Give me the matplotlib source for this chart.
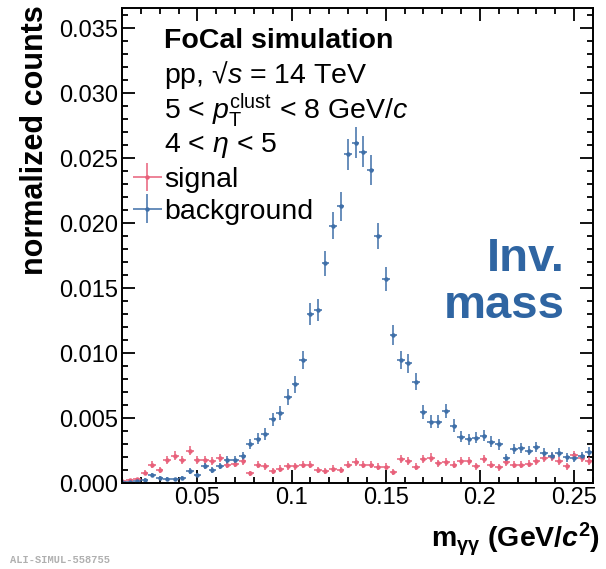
import numpy as np
import matplotlib
matplotlib.use('Agg')
import matplotlib.pyplot as plt
from matplotlib.ticker import MultipleLocator, FixedLocator, FixedFormatter, FormatStrFormatter

plt.rcParams['font.family'] = ['Liberation Sans', 'DejaVu Sans']
plt.rcParams['mathtext.fontset'] = 'custom'
plt.rcParams['mathtext.rm'] = 'Liberation Sans'
plt.rcParams['mathtext.it'] = 'Liberation Sans:italic'
plt.rcParams['mathtext.bf'] = 'Liberation Sans:bold'
plt.rcParams['mathtext.bfit'] = 'Liberation Sans:italic:bold'

# bin centres of the invariant mass histogram (GeV/c^2)
mass_start = 0.010
bin_width = 0.004

signal = [0.00018, 0.00023, 0.0003, 0.0008, 0.0014, 0.001, 0.0018, 0.0021, 0.0018, 0.0025,
          0.0018, 0.0018, 0.0017, 0.0019, 0.0014, 0.0015, 0.0017, 0.00075, 0.0014, 0.0013,
          0.00095, 0.0011, 0.0013, 0.0013, 0.0014, 0.0014, 0.001, 0.0009, 0.0011, 0.001,
          0.0014, 0.0016, 0.0014, 0.0014, 0.00126, 0.00126, 0.00087, 0.00185, 0.00172, 0.00126,
          0.00183, 0.00195, 0.00152, 0.00164, 0.0014, 0.0017, 0.0017, 0.0013, 0.00183, 0.0014,
          0.0012, 0.00164, 0.0014, 0.0014, 0.0015, 0.0017, 0.0019, 0.002, 0.0017, 0.0013,
          0.00216, 0.0019, 0.0017]
signal_err = [0.0001, 0.0001, 0.00012, 0.0002, 0.00028, 0.00024, 0.0003, 0.00033, 0.0003, 0.00036,
              0.0003, 0.0003, 0.0003, 0.00032, 0.00028, 0.00028, 0.0003, 0.0002, 0.00028, 0.00026,
              0.00023, 0.00025, 0.00026, 0.00026, 0.00028, 0.00028, 0.00024, 0.00022, 0.00025, 0.00024,
              0.00028, 0.0003, 0.00028, 0.00028, 0.00026, 0.00026, 0.00022, 0.00032, 0.0003, 0.00026,
              0.00032, 0.00033, 0.00029, 0.0003, 0.00028, 0.0003, 0.0003, 0.00026, 0.00032, 0.00028,
              0.00026, 0.0003, 0.00028, 0.00028, 0.00029, 0.0003, 0.00032, 0.00033, 0.0003, 0.00026,
              0.00034, 0.00032, 0.0003]

background = [0.00005, 0.0001, 0.00015, 0.00025, 0.0006, 0.00042, 0.00032, 0.00029, 0.00042, 0.00093,
              0.0006, 0.0013, 0.001, 0.0013, 0.0018, 0.0018, 0.0021, 0.003, 0.0034, 0.0038,
              0.0049, 0.0054, 0.0066, 0.0076, 0.0095, 0.013, 0.0133, 0.0169, 0.0198, 0.0213,
              0.0253, 0.0262, 0.0255, 0.0241, 0.019, 0.0157, 0.0114, 0.0095, 0.0092, 0.0078,
              0.00545, 0.00473, 0.00473, 0.00557, 0.00442, 0.00357, 0.00337, 0.0035, 0.00365, 0.00318,
              0.00298, 0.0019, 0.0026, 0.00272, 0.00249, 0.00275, 0.00234, 0.00208, 0.00234, 0.00198,
              0.00195, 0.00208, 0.00241]
background_err = [0.00005, 0.00007, 0.00009, 0.0001, 0.00016, 0.00014, 0.00012, 0.00012, 0.00014, 0.0002,
                  0.00016, 0.00024, 0.0002, 0.00024, 0.0003, 0.0003, 0.00032, 0.0004, 0.00042, 0.00045,
                  0.0005, 0.00053, 0.0006, 0.00064, 0.0007, 0.00085, 0.00086, 0.00095, 0.00105, 0.0011,
                  0.0012, 0.0012, 0.0012, 0.00115, 0.001, 0.0009, 0.0008, 0.0007, 0.0007, 0.00065,
                  0.00055, 0.0005, 0.0005, 0.00055, 0.0005, 0.00044, 0.00043, 0.00044, 0.00045, 0.00042,
                  0.0004, 0.00032, 0.00038, 0.00038, 0.00037, 0.00038, 0.00036, 0.00034, 0.00036, 0.00033,
                  0.00033, 0.00034, 0.00036]

x_ticks = [0.05, 0.1, 0.15, 0.2, 0.25]
x_tick_labels = ['0.05', '0.1', '0.15', '0.2', '0.25']

sig_color = '#e8607a'
bkg_color = '#3f6fa8'

mass = mass_start + bin_width * np.arange(len(signal))

fig = plt.figure(figsize=(6.06, 5.69), dpi=100)
ax = fig.add_axes([0.2013, 0.1511, 0.7772, 0.8357])

err_kw = dict(fmt='o', markersize=3.2, elinewidth=1.1, capsize=0, markeredgewidth=0)
h_sig = ax.errorbar(mass, signal, yerr=signal_err, xerr=bin_width / 2,
                    color=sig_color, label='signal', **err_kw)
h_bkg = ax.errorbar(mass, background, yerr=background_err, xerr=bin_width / 2,
                    color=bkg_color, label='background', **err_kw)

ax.set_xlim(0.01, 0.26)
ax.set_ylim(0, 0.0366)

ax.xaxis.set_major_locator(FixedLocator(x_ticks))
ax.xaxis.set_major_formatter(FixedFormatter(x_tick_labels))
ax.xaxis.set_minor_locator(MultipleLocator(0.01))
ax.yaxis.set_major_locator(MultipleLocator(0.005))
ax.yaxis.set_minor_locator(MultipleLocator(0.001))
ax.yaxis.set_major_formatter(FormatStrFormatter('%.3f'))

ax.tick_params(which='both', direction='in', top=True, right=True, width=1.3,
               labelsize=17, colors='black')
ax.tick_params(which='major', length=9.5, pad=3)
ax.tick_params(which='minor', length=4.5)
for sp in ax.spines.values():
    sp.set_linewidth(1.4)

ax.set_ylabel('normalized counts', fontsize=22, fontweight='bold', loc='top', labelpad=6)
ax.yaxis.label.set_y(1.005)
ax.set_xlabel(r'm$_{\mathbf{\gamma\gamma}}$ (GeV/$\mathbfit{c}^{\mathbf{2}}$)',
              fontsize=20.5, fontweight='bold', loc='right', labelpad=8)
ax.xaxis.label.set_x(1.015)

txt_kw = dict(transform=ax.transAxes, fontsize=20.5, va='center')
ax.text(0.09, 0.93, 'FoCal simulation', fontweight='bold', **txt_kw)
ax.text(0.09, 0.858, r'pp, √$s$ = 14 TeV', **txt_kw)
ax.text(0.09, 0.784, r'5 < $p_{\mathrm{T}}^{\mathrm{clust}}$ < 8 GeV/$c$', **txt_kw)
ax.text(0.09, 0.709, r'4 < $\eta$ < 5', **txt_kw)

ax.legend(handles=[h_sig, h_bkg], loc='upper left', bbox_to_anchor=(0.025, 0.665),
          frameon=False, fontsize=20.5, handlelength=0.95, handletextpad=0.12,
          labelspacing=0.2, borderaxespad=0, borderpad=0)

ax.text(0.94, 0.422, 'Inv.\nmass', transform=ax.transAxes, fontsize=34, fontweight='bold',
        color='#2f65a2', ha='right', va='center', linespacing=1.1)

fig.text(0.017, 0.01, 'ALI-SIMUL-558755', fontsize=7.5, color='#b0b0b0',
         family='Liberation Mono', fontweight='bold')

fig.savefig('out.png', dpi=100)
